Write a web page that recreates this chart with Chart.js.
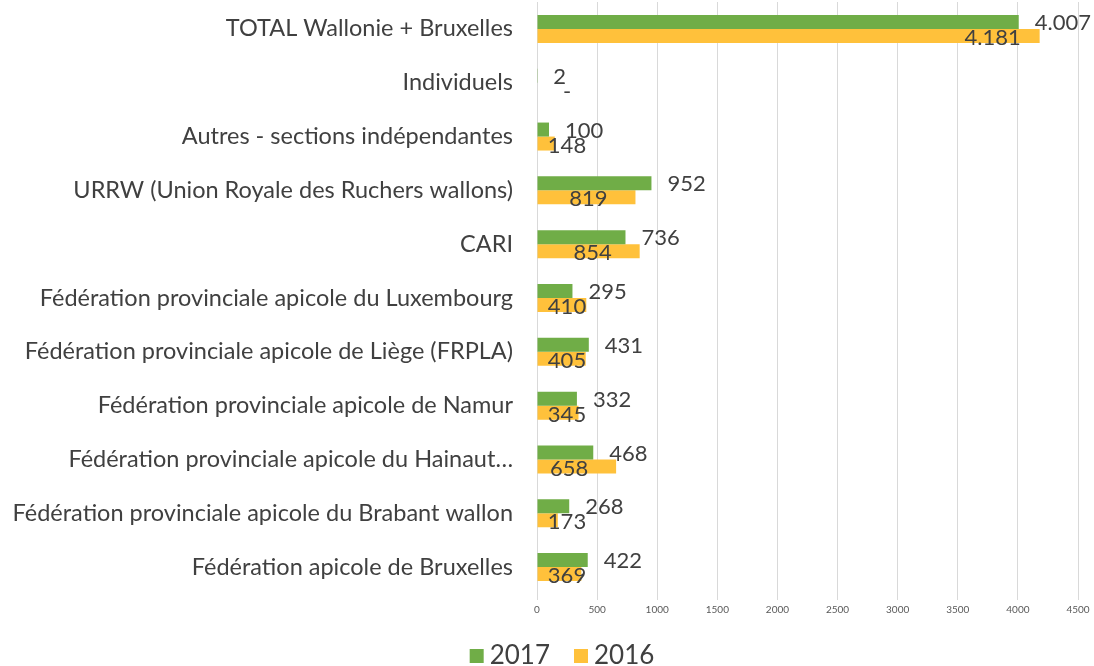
<!DOCTYPE html>
<html>
<head>
<meta charset="utf-8">
<script src="https://cdn.jsdelivr.net/npm/chart.js@4.4.1/dist/chart.umd.min.js"></script>
<style>
  html, body { margin: 0; padding: 0; background: #fff; }
  #wrap { width: 1094px; height: 666px; }
</style>
</head>
<body>
<div id="wrap"><canvas id="chart"></canvas></div>
<script>
// Categories, top to bottom
const categories = [
  'TOTAL Wallonie + Bruxelles',
  'Individuels',
  'Autres - sections indépendantes',
  'URRW (Union Royale des Ruchers wallons)',
  'CARI',
  'Fédération provinciale apicole du Luxembourg',
  'Fédération provinciale apicole de Liège (FRPLA)',
  'Fédération provinciale apicole de Namur',
  'Fédération provinciale apicole du Hainaut…',
  'Fédération provinciale apicole du Brabant wallon',
  'Fédération apicole de Bruxelles'
];

// Series values
const values2017 = [4007, 2, 100, 952, 736, 295, 431, 332, 468, 268, 422];
const values2016 = [4181, 0, 148, 819, 854, 410, 405, 345, 658, 173, 369];

// Axis ticks
const xTicks = [0, 500, 1000, 1500, 2000, 2500, 3000, 3500, 4000, 4500];

const GREEN = '#70AD47';
const ORANGE = '#FFC13B';
const TEXT = '#404040';
const FONT = 'Lato, "Open Sans", sans-serif';

// Excel-like number format: thousands with ".", zero as "-"
function fmt(v) {
  if (v === 0) return '-';
  return String(v).replace(/\B(?=(\d{3})+(?!\d))/g, '.');
}

// Value labels next to the bars
const valueLabels = {
  id: 'valueLabels',
  afterDatasetsDraw(chart) {
    const ctx = chart.ctx;
    ctx.save();
    ctx.font = '22px ' + FONT;
    ctx.fillStyle = TEXT;
    ctx.textBaseline = 'middle';
    chart.getDatasetMeta(0).data.forEach((bar, i) => {
      ctx.textAlign = 'left';
      ctx.fillText(fmt(values2017[i]), bar.x + 16, bar.y + 1);
    });
    chart.getDatasetMeta(1).data.forEach((bar, i) => {
      ctx.textAlign = 'center';
      ctx.fillText(fmt(values2016[i]), Math.max(bar.x - 47, 567), bar.y + 2);
    });
    ctx.restore();
  }
};

// Legend drawn below the axis, Excel style
const bottomLegend = {
  id: 'bottomLegend',
  afterDraw(chart) {
    const ctx = chart.ctx;
    const items = chart.data.datasets.map(d => ({ text: d.label, color: d.backgroundColor }));
    ctx.save();
    ctx.font = '26px ' + FONT;
    ctx.textBaseline = 'middle';
    ctx.textAlign = 'left';
    const box = 14, gapBox = 6, gapItem = 24;
    const widths = items.map(it => box + gapBox + ctx.measureText(it.text).width);
    const total = widths.reduce((a, b) => a + b, 0) + gapItem * (items.length - 1);
    let x = chart.width / 2 + 15 - total / 2;
    const y = 656;
    items.forEach((it, i) => {
      ctx.fillStyle = it.color;
      ctx.fillRect(x, y - box / 2, box, box);
      ctx.fillStyle = TEXT;
      ctx.fillText(it.text, x + box + gapBox, y);
      x += widths[i] + gapItem;
    });
    ctx.restore();
  }
};

new Chart(document.getElementById('chart'), {
  type: 'bar',
  data: {
    labels: categories,
    datasets: [
      { label: '2017', data: values2017, backgroundColor: GREEN },
      { label: '2016', data: values2016, backgroundColor: ORANGE }
    ]
  },
  options: {
    indexAxis: 'y',
    responsive: true,
    maintainAspectRatio: false,
    animation: false,
    layout: { padding: { top: 2, right: 16, left: 0, bottom: 48 } },
    datasets: { bar: { categoryPercentage: 0.52, barPercentage: 1 } },
    scales: {
      x: {
        min: 0,
        max: 4500,
        afterBuildTicks: (scale) => { scale.ticks = xTicks.map(v => ({ value: v })); },
        afterFit: (scale) => { scale.height = 24; scale.paddingTop = 0; scale.paddingBottom = 0; },
        grid: { color: '#d9d9d9', tickLength: 6, drawTicks: true },
        border: { display: false },
        ticks: { color: '#595959', font: { family: FONT, size: 10 }, padding: 4,
                 callback: (v) => String(v) }
      },
      y: {
        afterFit: (scale) => { scale.width = 537; scale.paddingTop = 0; scale.paddingBottom = 0; },
        grid: { display: false },
        border: { color: '#d9d9d9' },
        ticks: { color: TEXT, font: { family: FONT, size: 23.5 }, padding: 16 }
      }
    },
    plugins: {
      legend: { display: false },
      tooltip: { enabled: false }
    }
  },
  plugins: [valueLabels, bottomLegend]
});
</script>
</body>
</html>
